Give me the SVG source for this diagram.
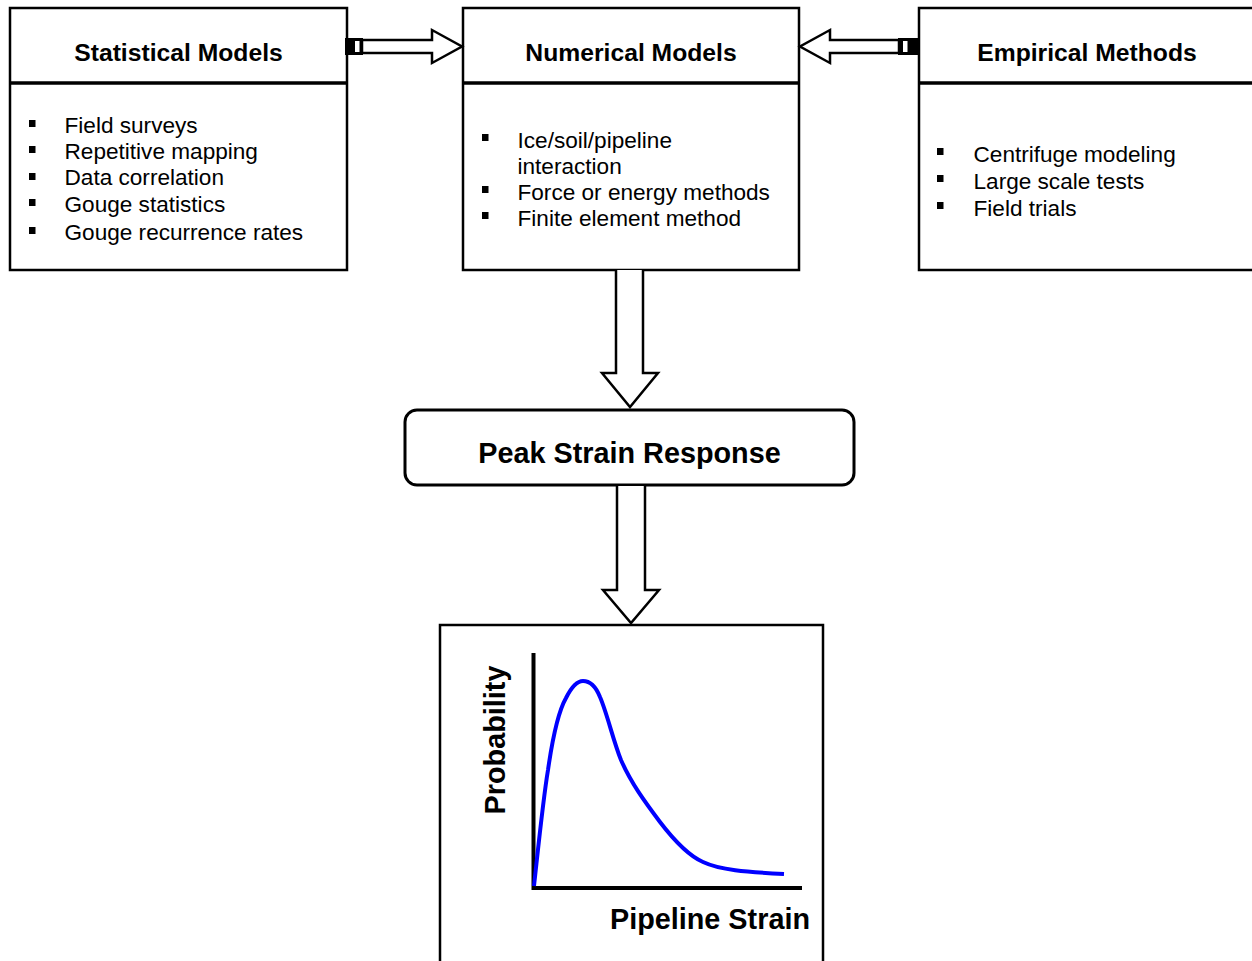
<svg xmlns="http://www.w3.org/2000/svg" width="1252" height="961" viewBox="0 0 1252 961">
<style>
.box{fill:#fff;stroke:#000;stroke-width:2.5}
.div{stroke:#000;stroke-width:3.5}
.title{font-family:"Liberation Sans",Arial,sans-serif;font-weight:bold;font-size:24.7px;fill:#000;text-anchor:middle}
.item{font-family:"Liberation Sans",Arial,sans-serif;font-size:22.6px;fill:#000}
.big{font-family:"Liberation Sans",Arial,sans-serif;font-weight:bold;font-size:28.8px;fill:#000}
.arrow{fill:#fff;stroke:#000;stroke-width:2.5;stroke-linejoin:miter}
.bul{fill:#000}
</style>
<rect width="1252" height="961" fill="#fff"/>
<g id="statistical">
<rect class="box" x="10" y="8" width="337" height="262"/>
<line class="div" x1="10" y1="83" x2="347" y2="83"/>
<text class="title" x="178.5" y="61">Statistical Models</text>
<rect class="bul" x="29" y="120" width="6.5" height="7"/>
<rect class="bul" x="29" y="146" width="6.5" height="7"/>
<rect class="bul" x="29" y="173" width="6.5" height="7"/>
<rect class="bul" x="29" y="199" width="6.5" height="7"/>
<rect class="bul" x="29" y="227" width="6.5" height="7"/>
<text class="item" x="64.5" y="133">Field surveys</text>
<text class="item" x="64.5" y="159">Repetitive mapping</text>
<text class="item" x="64.5" y="185">Data correlation</text>
<text class="item" x="64.5" y="212">Gouge statistics</text>
<text class="item" x="64.5" y="240">Gouge recurrence rates</text>
</g>
<g id="numerical">
<rect class="box" x="463" y="8" width="336" height="262"/>
<line class="div" x1="463" y1="83" x2="799" y2="83"/>
<text class="title" x="631" y="61">Numerical Models</text>
<rect class="bul" x="482" y="134" width="6.5" height="7"/>
<rect class="bul" x="482" y="186" width="6.5" height="7"/>
<rect class="bul" x="482" y="212" width="6.5" height="7"/>
<text class="item" x="517.5" y="148">Ice/soil/pipeline</text>
<text class="item" x="517.5" y="174">interaction</text>
<text class="item" x="517.5" y="200">Force or energy methods</text>
<text class="item" x="517.5" y="226">Finite element method</text>
</g>
<g id="empirical">
<rect class="box" x="919" y="8" width="336" height="262"/>
<line class="div" x1="919" y1="83" x2="1255" y2="83"/>
<text class="title" x="1087" y="61">Empirical Methods</text>
<rect class="bul" x="937" y="148" width="6.5" height="7"/>
<rect class="bul" x="937" y="175" width="6.5" height="7"/>
<rect class="bul" x="937" y="202" width="6.5" height="7"/>
<text class="item" x="973.5" y="162">Centrifuge modeling</text>
<text class="item" x="973.5" y="189">Large scale tests</text>
<text class="item" x="973.5" y="216">Field trials</text>
</g>
<g id="peak">
<rect x="405" y="410" width="449" height="75" rx="12" ry="12" fill="#fff" stroke="#000" stroke-width="3"/>
<text class="big" x="629.5" y="463" text-anchor="middle">Peak Strain Response</text>
</g>
<g id="plot">
<rect class="box" x="440" y="625" width="383" height="340"/>
<line x1="533.5" y1="653" x2="533.5" y2="890" stroke="#000" stroke-width="4"/>
<line x1="532" y1="888" x2="802" y2="888" stroke="#000" stroke-width="4"/>
<path d="M534,886 C538,850 543,800 548,770 C553,735 558,712 566,698 C572,686 577,681 583,681 C590,681 596,687 600,697 C607,713 613,740 621,760 C631,783 645,802 660,822 C673,839 687,855 703,862 C720,870 745,872 784,874" fill="none" stroke="#0000ff" stroke-width="4" stroke-linecap="butt"/>
<text class="big" transform="translate(505,740) rotate(-90)" text-anchor="middle">Probability</text>
<text class="big" x="810" y="929" text-anchor="end">Pipeline Strain</text>
</g>
<g id="connectors">
<path class="arrow" d="M362,40 H432 V30 L462,46.5 L432,63 V53 H362 Z"/>
<rect x="345" y="38" width="18" height="17" fill="#000"/>
<rect x="355" y="41" width="4.5" height="11" fill="#fff"/>
<path class="arrow" d="M899,40 H830 V30 L800,46.5 L830,63 V53 H899 Z"/>
<rect x="898" y="38" width="20" height="17" fill="#000"/>
<rect x="903" y="41" width="4.5" height="11" fill="#fff"/>
<path class="arrow" d="M616,270 V373 H602 L630,407 L658,373 H643 V270"/>
<path class="arrow" d="M617,486 V590 H603 L631,623 L659,590 H645 V486"/>
</g>
</svg>
